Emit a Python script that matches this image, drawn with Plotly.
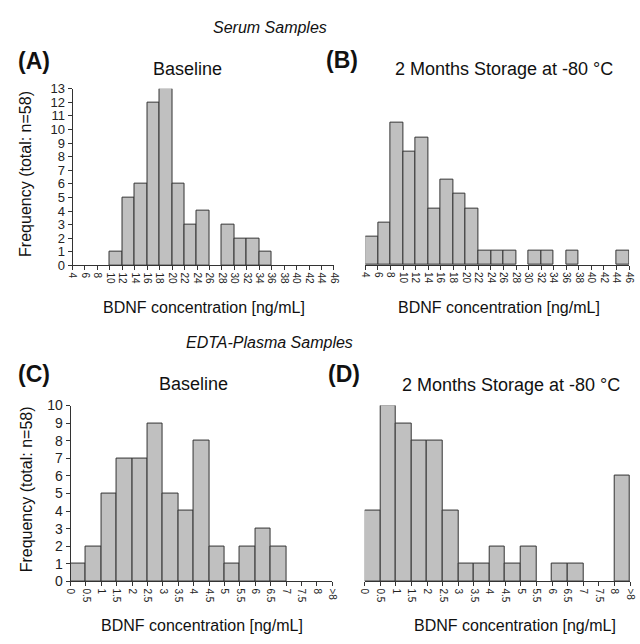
import plotly.graph_objects as go

# ---------------- data ----------------
serum_edges = [4, 6, 8, 10, 12, 14, 16, 18, 20, 22, 24, 26, 28, 30, 32, 34, 36, 38, 40, 42, 44, 46]
serum_tick_labels = ["4", "6", "8", "10", "12", "14", "16", "18", "20", "22", "24", "26", "28",
                     "30", "32", "34", "36", "38", "40", "42", "44", "46"]
serum_baseline = [0, 0, 0, 1, 5, 6, 12, 13, 6, 3, 4, 0, 3, 2, 2, 1, 0, 0, 0, 0, 0]
serum_storage = [2, 3, 10, 8, 9, 4, 6, 5, 4, 1, 1, 1, 0, 1, 1, 0, 1, 0, 0, 0, 1]

plasma_edges = [0, 0.5, 1, 1.5, 2, 2.5, 3, 3.5, 4, 4.5, 5, 5.5, 6, 6.5, 7, 7.5, 8, 8.5]
plasma_tick_labels = ["0", "0.5", "1", "1.5", "2", "2.5", "3", "3.5", "4", "4.5", "5", "5.5",
                      "6", "6.5", "7", "7.5", "8", ">8"]
plasma_baseline = [1, 2, 5, 7, 7, 9, 5, 4, 8, 2, 1, 2, 3, 2, 0, 0, 0]
plasma_storage = [4, 10, 9, 8, 8, 4, 1, 1, 2, 1, 2, 0, 1, 1, 0, 0, 6]

W, H = 640, 644
FONT = "Liberation Sans, Arial, sans-serif"


def px(x):
    return x / W


def py(y):
    return 1 - y / H


def centers(edges):
    return [(edges[i] + edges[i + 1]) / 2 for i in range(len(edges) - 1)]


def widths(edges):
    return [edges[i + 1] - edges[i] for i in range(len(edges) - 1)]


fig = go.Figure()

panels = [
    # (suffix, edges, counts, tick labels, x-domain px, y-domain px, y range, show y, ytick size)
    ("", serum_edges, serum_baseline, serum_tick_labels, (68.7, 334.7), (82.7, 264), [0, 13], True, 13),
    ("2", serum_edges, serum_storage, serum_tick_labels, (366.7, 635), (82.7, 263.5), [0, 12.42], False, 13),
    ("3", plasma_edges, plasma_baseline, plasma_tick_labels, (66.7, 333), (407.7, 588), [0, 10], True, 14),
    ("4", plasma_edges, plasma_storage, plasma_tick_labels, (366, 636), (407.7, 588), [0, 10], False, 14),
]

layout_axes = {}
for suf, edges, counts, labels, xd, yd, yr, showy, ysz in panels:
    fig.add_trace(go.Bar(
        x=centers(edges), y=counts, width=widths(edges),
        xaxis="x" + suf, yaxis="y" + suf,
        marker=dict(color="#c0c0c0",
                    line=dict(color="#333333", width=[1 if c > 0 else 0 for c in counts])),
        showlegend=False, hoverinfo="x+y",
    ))
    layout_axes["xaxis" + suf] = dict(
        domain=[px(xd[0]), px(xd[1])], range=[edges[0], edges[-1]],
        anchor="y" + suf, tickmode="array", tickvals=edges, ticktext=labels,
        tickangle=90, ticks="outside", ticklen=4, tickcolor="#333",
        showline=True, linecolor="#333", linewidth=1, showgrid=False, zeroline=False,
        tickfont=dict(family=FONT, size=10, color="#222"), fixedrange=True,
    )
    if showy:
        layout_axes["yaxis" + suf] = dict(
            domain=[py(yd[1]), py(yd[0])], range=yr, anchor="x" + suf,
            tickmode="linear", tick0=0, dtick=1, ticks="outside", ticklen=4, tickcolor="#333",
            showline=True, linecolor="#333", linewidth=1, showgrid=False, zeroline=False,
            tickfont=dict(family=FONT, size=ysz, color="#222"), fixedrange=True,
        )
    else:
        layout_axes["yaxis" + suf] = dict(
            domain=[py(yd[1]), py(yd[0])], range=yr, anchor="x" + suf,
            visible=False, showgrid=False, zeroline=False, fixedrange=True,
        )

annots = []


def txt(x, y, s, size, bold=False, italic=False, angle=0):
    t = s
    if bold:
        t = "<b>" + t + "</b>"
    if italic:
        t = "<i>" + t + "</i>"
    annots.append(dict(x=px(x), y=py(y), xref="paper", yref="paper", text=t, showarrow=False,
                       xanchor="center", yanchor="middle", textangle=angle,
                       font=dict(family=FONT, size=size, color="#111")))


# section headers
txt(270, 20, "Serum Samples", 16, italic=True)
txt(269, 343, "EDTA-Plasma Samples", 16, italic=True)
# panel letters
txt(29, 54, "(A)", 23, bold=True)
txt(342.5, 53, "(B)", 23, bold=True)
txt(30, 375, "(C)", 23, bold=True)
txt(344.5, 375, "(D)", 23, bold=True)
# panel titles
txt(186, 63, "Baseline", 18)
txt(508, 63, "2 Months Storage at -80 °C", 18)
txt(191.5, 386, "Baseline", 18)
txt(514.5, 386.5, "2 Months Storage at -80 °C", 18)
# x-axis titles
txt(202, 307, "BDNF concentration [ng/mL]", 16)
txt(502.5, 307, "BDNF concentration [ng/mL]", 16)
txt(200.5, 633, "BDNF concentration [ng/mL]", 16)
txt(519, 633, "BDNF concentration [ng/mL]", 16)
# y-axis titles
txt(21.5, 170, "Frequency (total: n=58)", 16, angle=-90)
txt(22, 494, "Frequency (total: n=58)", 16, angle=-90)

fig.update_layout(
    width=W, height=H, margin=dict(l=0, r=0, t=0, b=0),
    paper_bgcolor="white", plot_bgcolor="white",
    bargap=0, annotations=annots, **layout_axes,
)

fig.write_html(
    "out.html",
    config={"displayModeBar": False},
    post_script="document.body.style.margin='0';document.body.style.overflow='hidden';",
)
